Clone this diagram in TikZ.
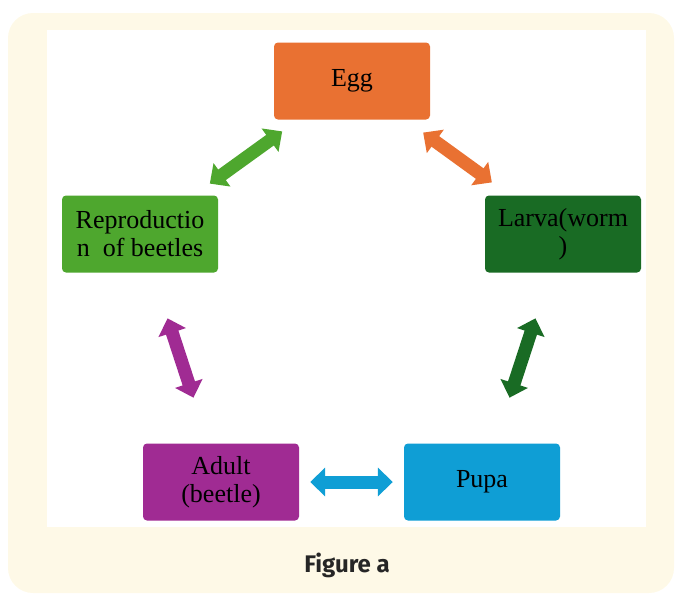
\documentclass[tikz,border=0pt]{standalone}
\usepackage{fontspec}
\setmainfont{Liberation Serif}
\newfontfamily\capfont{Fira Sans}
\usetikzlibrary{arrows.meta}
\definecolor{cream}{HTML}{FEF9E7}
\definecolor{eggorange}{HTML}{E97132}
\definecolor{reprogreen}{HTML}{4EA72E}
\definecolor{larvagreen}{HTML}{196B24}
\definecolor{adultpurple}{HTML}{A02B93}
\definecolor{pupablue}{HTML}{0F9ED5}

\begin{document}
\begin{tikzpicture}[x=1pt,y=-1pt,
    stage/.style={rectangle,rounded corners=4pt,minimum width=156pt,
      minimum height=77pt,inner sep=2pt,align=center,text=black,
      font=\fontsize{26}{28}\selectfont},
    cyclearrow/.style={draw=#1,line width=13pt,
      {Triangle[width=28pt,length=15pt]}-{Triangle[width=28pt,length=15pt]}}]
  \useasboundingbox (0,0) rectangle (677,595);
  \fill[cream,rounded corners=25pt] (8,13) rectangle (674,593);
  \fill[white] (47,30) rectangle (646,527);

  \node[stage,fill=eggorange] (egg) at (352,81) {Egg};
  \node[stage,fill=reprogreen] (repro) at (140,234) {Reproductio\\n\ \ of beetles};
  \node[stage,fill=larvagreen] (larva) at (563,234) {Larva(worm\\)};
  \node[stage,fill=adultpurple] (adult) at (221,482) {Adult\\(beetle)};
  \node[stage,fill=pupablue] (pupa) at (482,482) {Pupa};

  \foreach \a/\b/\c/\s in {repro/egg/reprogreen/20, egg/larva/eggorange/22,
      repro/adult/adultpurple/48, larva/pupa/larvagreen/48,
      adult/pupa/pupablue/11}
    \draw[cyclearrow=\c,shorten <=\s pt,shorten >=\s pt] (\a) -- (\b);

  \node[text=black!85,font=\capfont\bfseries\fontsize{24}{24}\selectfont]
    (caption) at (347,565) {Figure a};
\end{tikzpicture}
\end{document}
